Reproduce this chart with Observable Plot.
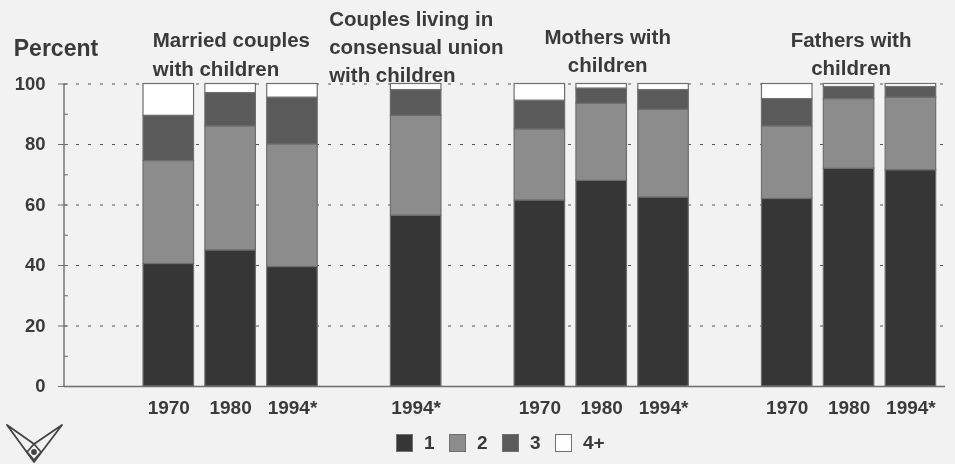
<!DOCTYPE html>
<html>
<head>
<meta charset="utf-8">
<script src="https://cdn.jsdelivr.net/npm/d3@7"></script>
<script src="https://cdn.jsdelivr.net/npm/@observablehq/plot@0.6"></script>
<style>
html,body{margin:0;padding:0;background:#f2f2f2;width:955px;height:464px;overflow:hidden}
#wrap{position:relative;width:955px;height:464px;font-family:"Liberation Sans",Arial,sans-serif;font-weight:700;color:#3a3a3a;filter:blur(0.45px)}
#legend{position:absolute;left:396px;top:434px;display:flex;align-items:center;font-size:19px;line-height:18px}
#legend i{display:inline-block;width:17px;height:18px;box-sizing:border-box;border:1.5px solid #707070}
#legend span{display:inline-block;width:25px;padding-left:11px}
#logo{position:absolute;left:5px;top:423px}
</style>
</head>
<body>
<div id="wrap"></div>
<script>
const slots = ["m70","m80","m94","g1","c94","g2","f70","f80","f94","g3","d70","d80","d94"];
const slotLabels = {m70:"1970",m80:"1980",m94:"1994*",c94:"1994*",f70:"1970",f80:"1980",f94:"1994*",d70:"1970",d80:"1980",d94:"1994*"};
const barSlots = ["m70","m80","m94","c94","f70","f80","f94","d70","d80","d94"];
const children = ["1","2","3","4+"];
const colors = ["#363636","#8c8c8c","#5a5a5a","#ffffff"];
const one   = [40.5,45,39.5,56.5,61.5,68,62.5,62,72,71.5];
const two   = [34,41,40.5,33,23.5,25.5,29,24,23,24];
const three = [15,11,15.5,8.5,9.5,5,6.5,9,4,3.5];
const four  = [10.5,3,4.5,2,5.5,1.5,2,5,1,1];
const titles = [
  {slot:"m70",y:110.4,dx:-16,anchor:"start",text:"Married couples\nwith children"},
  {slot:"c94",y:113,dx:-87,anchor:"start",text:"Couples living in\nconsensual union\nwith children"},
  {slot:"f80",y:111.7,dx:6,anchor:"middle",text:"Mothers with\nchildren"},
  {slot:"d80",y:110.6,dx:2,anchor:"middle",text:"Fathers with\nchildren"}
];
const series = [one,two,three,four];
const rows = barSlots.flatMap((slot,i)=>children.map((c,k)=>({slot,children:c,share:series[k][i]})));
const font = '"Liberation Sans",Arial,sans-serif';
const ink = "#3a3a3a", rule = "#6e6e6e";

const chart = Plot.plot({
  width:955,height:464,marginLeft:64,marginRight:10,marginTop:83.5,marginBottom:78,
  style:{background:"transparent",fontFamily:font,overflow:"visible"},
  x:{domain:slots,range:[131.7,947],padding:0.183,round:false,label:null},
  y:{domain:[0,100],label:null},
  color:{domain:children,range:colors},
  marks:[
    Plot.ruleY([20,40,60,80,100],{stroke:"#555",strokeWidth:1.2,strokeDasharray:"3,9"}),
    Plot.barY(rows,{x:"slot",y:"share",fill:"children",order:children,stroke:rule,strokeWidth:1.2}),
    Plot.ruleY([0],{stroke:rule,strokeWidth:1.4}),
    Plot.axisY({ticks:d3.range(0,101,10),tickSize:-4,tickFormat:()=>"",stroke:rule,label:null}),
    Plot.axisY({ticks:d3.range(0,101,20),tickSize:6,tickPadding:13,stroke:rule,fill:ink,fontSize:18.5,fontWeight:700,label:null}),
    Plot.axisX({ticks:barSlots,tickSize:0,tickPadding:14,tickFormat:d=>slotLabels[d],fill:ink,fontSize:19,fontWeight:700,label:null}),
    ...titles.map(t=>Plot.text([t],{x:"slot",y:"y",dx:t.dx,text:"text",textAnchor:t.anchor,fontSize:20.5,fontWeight:700,fill:ink,lineHeight:1.37})),
    Plot.text(["Percent"],{x:()=>"m70",y:()=>111.7,dx:-155,text:d=>d,textAnchor:"start",fontSize:23,fontWeight:700,fill:ink})
  ]
});
const wrap = document.getElementById("wrap");
wrap.appendChild(chart);
const y = chart.scale("y");
const ns = "http://www.w3.org/2000/svg";
const line = document.createElementNS(ns,"line");
line.setAttribute("x1",64);line.setAttribute("x2",64);
line.setAttribute("y1",y.apply(0));line.setAttribute("y2",y.apply(100));
line.setAttribute("stroke",rule);line.setAttribute("stroke-width",1.4);
chart.appendChild(line);

const legend = document.createElement("div");legend.id="legend";
children.forEach((c,i)=>{
  const sw=document.createElement("i");sw.style.background=colors[i];
  const t=document.createElement("span");t.textContent=c;
  legend.append(sw,t);
});
wrap.appendChild(legend);

const logo=document.createElement("div");logo.id="logo";
logo.innerHTML='<svg width="60" height="41" viewBox="0 0 60 41" fill="none" stroke="#444" stroke-width="1.8" stroke-linejoin="round"><path d="M2 2 L29 39 L57 2 L29 21 Z"/><path d="M29 21 L36 29 L29 37 L22 29 Z"/><circle cx="29" cy="29" r="2" fill="#444"/></svg>';
wrap.appendChild(logo);
</script>
</body>
</html>
